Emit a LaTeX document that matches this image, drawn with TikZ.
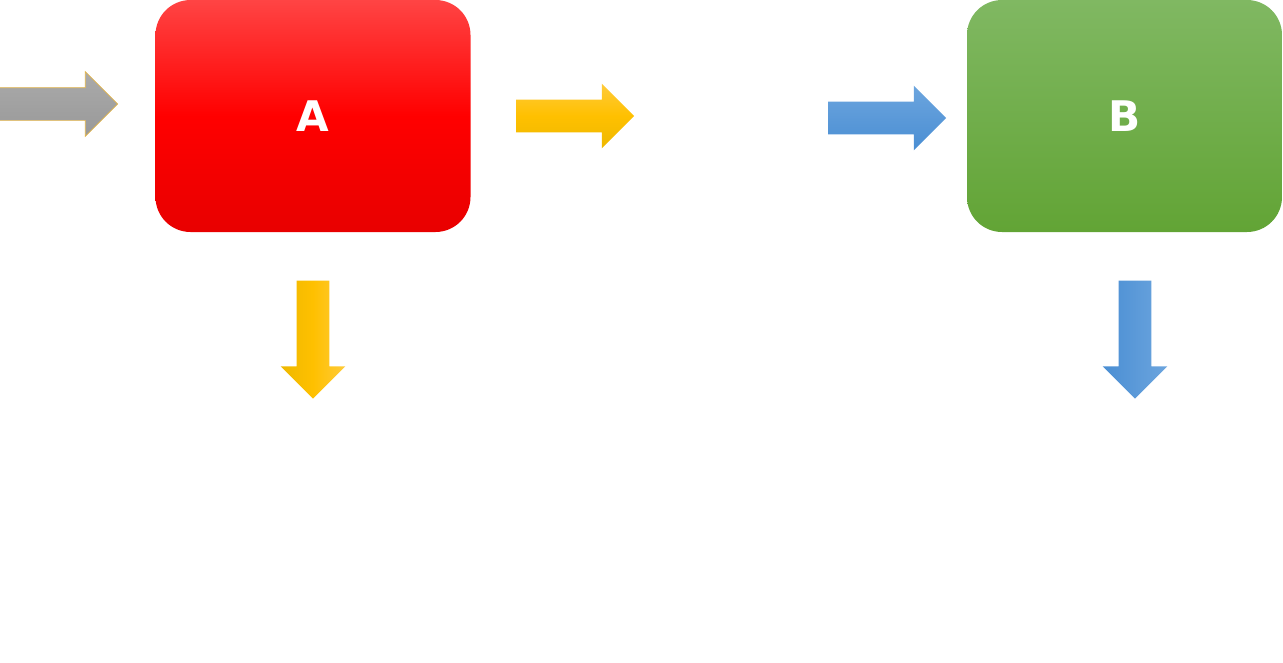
\documentclass[tikz,border=0pt]{standalone}
\usepackage{fontspec}
\setmainfont{DejaVu Sans}
\usetikzlibrary{positioning, shapes.arrows}
\definecolor{redtop}{HTML}{FF4444}
\definecolor{redmid}{HTML}{FF0000}
\definecolor{redbot}{HTML}{E80000}
\definecolor{greentop}{HTML}{80B862}
\definecolor{greenbot}{HTML}{62A435}
\definecolor{goldtop}{HTML}{FFCB3A}
\definecolor{goldmid}{HTML}{FFC000}
\definecolor{goldbot}{HTML}{EEB800}
\definecolor{skytop}{HTML}{6CA5DE}
\definecolor{skybot}{HTML}{4A8ED3}
\definecolor{greytop}{HTML}{AAAAAA}
\definecolor{greybot}{HTML}{999999}
\definecolor{goldedge}{HTML}{E2B44A}
\tikzstyle{stage} = [rounded corners=0.7cm,minimum width=6.3cm,minimum height=4.64cm,inner sep=0pt,text=white,font=\fontsize{24}{28}\selectfont\bfseries]
\tikzstyle{blockarrow} = [single arrow,minimum height=2.36cm,minimum width=1.28cm,inner xsep=0pt,inner ysep=0.32cm,single arrow head extend=0.32cm,single arrow head indent=0pt]
\tikzstyle{downarrow} = [blockarrow,shape border rotate=270,inner xsep=0.32cm,inner ysep=0pt]

\begin{document}
\begin{tikzpicture}
  \useasboundingbox (0,0) rectangle (25.66,-13.24);
  \node (boxA) [stage,top color=redtop,bottom color=redbot,middle color=redmid] at (6.26,-2.32) {A};
  \node (boxB) [stage,top color=greentop,bottom color=greenbot] at (22.49,-2.32) {B};
  \node (inArrow) [blockarrow,top color=greytop,bottom color=greybot,draw=goldedge,line width=0.4pt,left=0.74cm of boxA,yshift=0.24cm] {};
  \node (outA) [blockarrow,top color=goldtop,bottom color=goldbot,middle color=goldmid,right=0.9cm of boxA] {};
  \node (inB) [blockarrow,top color=skytop,bottom color=skybot,left=0.4cm of boxB,yshift=-0.04cm] {};
  \node (downA) [downarrow,left color=goldbot,right color=goldtop,middle color=goldmid,below=0.96cm of boxA] {};
  \node (downB) [downarrow,left color=skybot,right color=skytop,below=0.96cm of boxB,xshift=0.21cm] {};
\end{tikzpicture}
\end{document}
